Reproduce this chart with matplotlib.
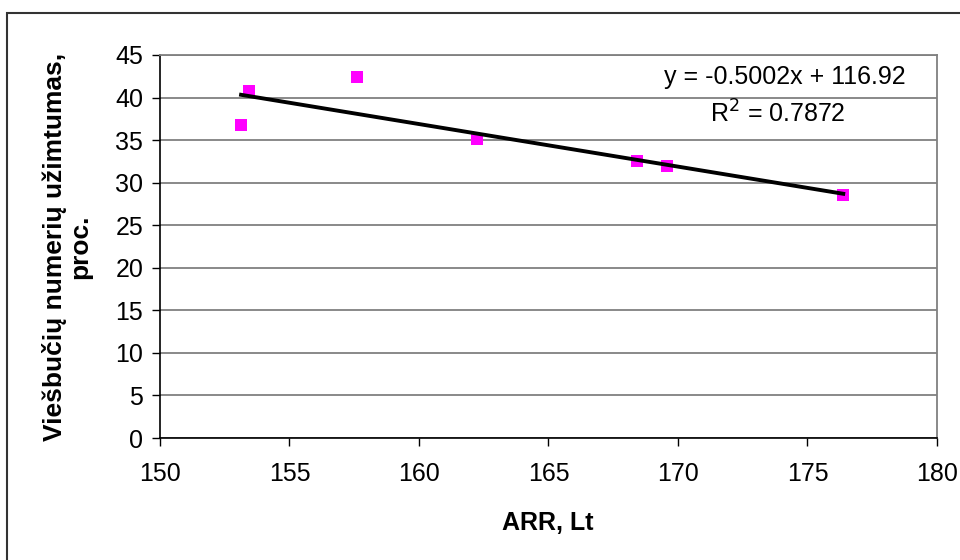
import matplotlib.pyplot as plt
from matplotlib.patches import Rectangle
import numpy as np

plt.rcParams['font.family'] = ['Liberation Sans', 'DejaVu Sans']

# data
arr_lt = [153.13, 153.44, 157.61, 162.24, 168.42, 169.58, 176.38]
occupancy = [36.8, 40.8, 42.4, 35.1, 32.6, 31.9, 28.5]

# trendline as printed on the chart
slope = -0.5002
intercept = 116.92
eq_text = "y = -0.5002x + 116.92"
r2_text = "R$^2$ = 0.7872"

x_ticks = [150, 155, 160, 165, 170, 175, 180]
y_ticks = [0, 5, 10, 15, 20, 25, 30, 35, 40, 45]

fig = plt.figure(figsize=(9.6, 5.6), dpi=100)
ax = fig.add_axes([160/960, 1 - 438/560, (937 - 160)/960, (438 - 55)/560])

# outer chart border
fig.patches.append(Rectangle((7/960, -0.1), 1.2, (560 - 13)/560 + 0.1,
                             transform=fig.transFigure, fill=False,
                             edgecolor='#333333', linewidth=1.5))

ax.set_xlim(150, 180)
ax.set_ylim(0, 45)
ax.set_xticks(x_ticks)
ax.set_yticks(y_ticks)
ax.grid(axis='y', color='#808080', linewidth=1.3)
ax.set_axisbelow(True)

for s in ['top', 'right']:
    ax.spines[s].set_color('#808080')
    ax.spines[s].set_linewidth(1.3)
for s in ['left', 'bottom']:
    ax.spines[s].set_color('black')
    ax.spines[s].set_linewidth(1.2)

ax.tick_params(direction='out', length=6, width=1, labelsize=18, pad=6)
ax.tick_params(axis='x', pad=11)

xs = np.array([min(arr_lt), max(arr_lt)])
ax.plot(xs, slope * xs + intercept, color='black', linewidth=2.8, zorder=3)
ax.plot(arr_lt, occupancy, 's', color='#ff00ff', markersize=8.5,
        markeredgewidth=0, zorder=2)

fig.text(906/960, 1 - 77/560, eq_text, ha='right', va='center', fontsize=18)
fig.text(778/960, 1 - 114/560, r2_text, ha='center', va='center', fontsize=18)

fig.text(67/960, 1 - 247/560, "Viešbučių numerių užimtumas,\nproc.",
         rotation=90, ha='center', va='center', multialignment='center',
         fontsize=19, fontweight='bold', linespacing=1.05)
fig.text(548/960, 1 - 523/560, "ARR, Lt", ha='center', va='center',
         fontsize=18, fontweight='bold')

fig.savefig('out.png', dpi=100)
